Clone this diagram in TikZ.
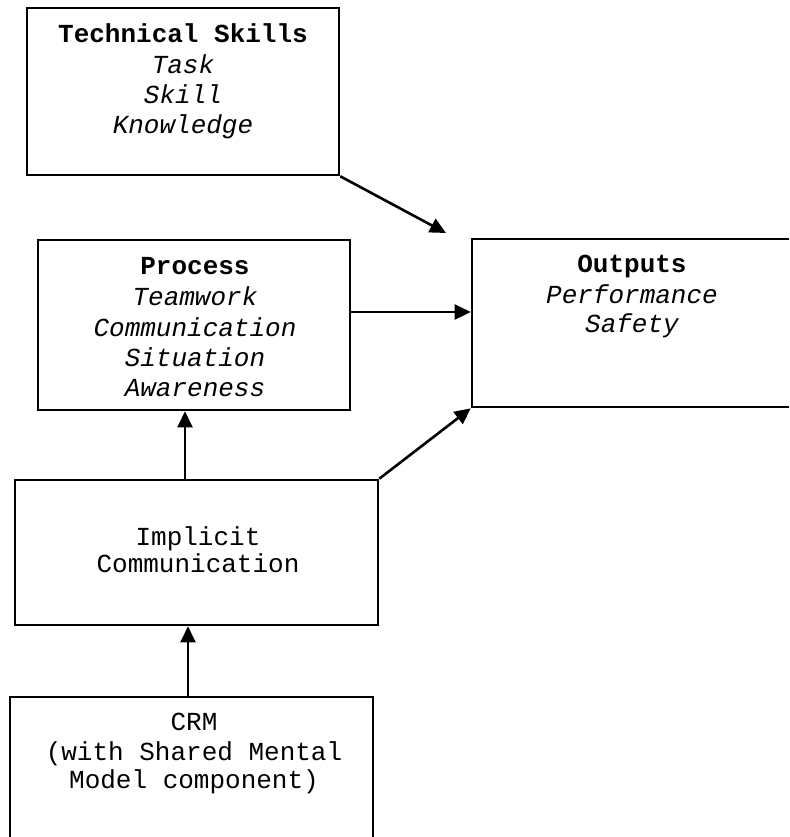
\documentclass[tikz,border=0pt]{standalone}
\usepackage{fontspec}
\setmainfont{Liberation Mono}
\usetikzlibrary{arrows.meta}
\begin{document}
\begin{tikzpicture}[x=0.5pt,y=-0.5pt,
  box/.style={draw, rectangle, line width=1.3pt, inner sep=0pt},
  txt/.style={anchor=base, inner sep=0pt, font=\fontsize{13}{15}\selectfont},
  hd/.style={txt, font=\fontsize{13}{15}\selectfont\bfseries},
  it/.style={txt, font=\fontsize{13}{15}\selectfont\itshape},
  arr/.style={line width=1.3pt, -{Triangle[length=8pt,width=7.5pt]}}]
\useasboundingbox (0,0) rectangle (789,837);
\clip (0,0) rectangle (789,837);
% boxes
\node[box, minimum width=156pt, minimum height=83.5pt] (ts) at (183,91.5) {};
\node[box, minimum width=156pt, minimum height=85pt] (pr) at (194,325) {};
\node[box, minimum width=160pt, minimum height=84pt] (out) at (632,323) {};
\node[box, minimum width=181.5pt, minimum height=72.5pt] (im) at (196.5,552.5) {};
\node[box, minimum width=181.5pt, minimum height=76.5pt] (crm) at (191.5,773.5) {};
% texts
\node[hd] (ts1) at (183,42) {Technical Skills};
\node[it] (ts2) at (183,73) {Task};
\node[it] (ts3) at (183,103) {Skill};
\node[it] (ts4) at (183,133) {Knowledge};
\node[hd] (pr1) at (195,274) {Process};
\node[it] (pr2) at (195,305) {Teamwork};
\node[it] (pr3) at (195,336) {Communication};
\node[it] (pr4) at (195,366) {Situation};
\node[it] (pr5) at (195,396) {Awareness};
\node[hd] (ou1) at (632,272) {Outputs};
\node[it] (ou2) at (632,303) {Performance};
\node[it] (ou3) at (632,332) {Safety};
\node[txt] (im1) at (198,545) {Implicit};
\node[txt] (im2) at (198,572) {Communication};
\node[txt] (cr1) at (194,730) {CRM};
\node[txt] (cr2) at (194,760) {(with Shared Mental};
\node[txt] (cr3) at (194,788) {Model component)};
% connectors
\coordinate (tsend) at (446,233);
\draw[arr] (ts.south east) -- (tsend);
\draw[arr] ([yshift=6.5pt]pr.east) -- ([yshift=6.5pt]pr.east -| out.west);
\coordinate (pa) at ([xshift=-4.5pt]pr.south);
\draw[arr] (im.north -| pa) -- (pa);
\draw[arr] (im.north east) -- (out.south west);
\coordinate (ia) at ([xshift=-4.25pt]im.south);
\draw[arr] (crm.north -| ia) -- (ia);
\end{tikzpicture}
\end{document}
